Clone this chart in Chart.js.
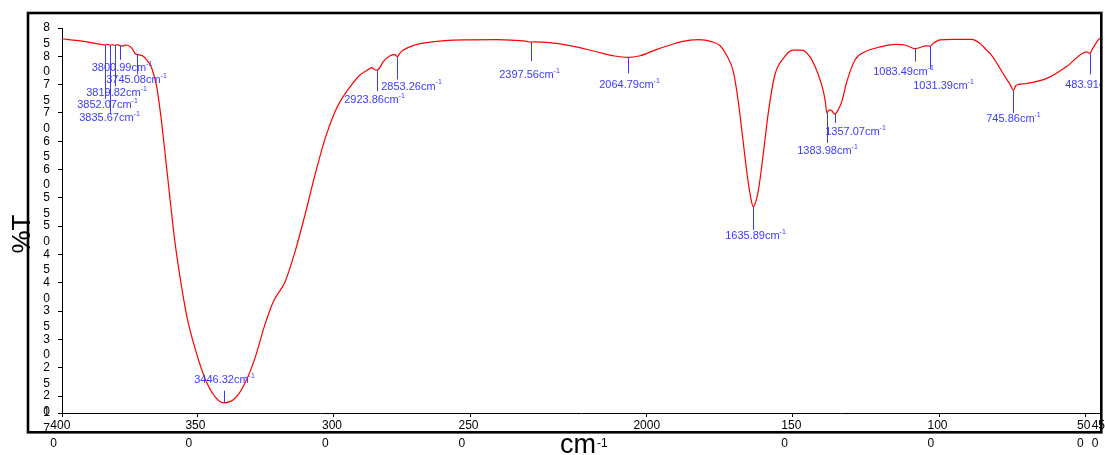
<!DOCTYPE html>
<html lang="en">
<head>
<meta charset="UTF-8">
<title>FTIR spectrum</title>
<script src="https://cdn.jsdelivr.net/npm/chart.js"></script>
<style>
    html, body { margin: 0; padding: 0; background: #fff; }
    #wrap { width: 1105px; height: 455px; }
</style>
</head>
<body>
<div id="wrap"><canvas id="spectrum" width="1105" height="455"></canvas></div>
<script>
    // spectrum: wavenumber (cm-1) and %T
    const wavenumbers = [
        4000, 3950, 3910, 3870, 3852, 3844, 3836, 3828, 3820, 3810, 3801, 3790, 3779, 3762, 3750, 3745,
        3735, 3725, 3710, 3693, 3676, 3661, 3648, 3631, 3614, 3596, 3574, 3545, 3511, 3477, 3446, 3408,
        3374, 3340, 3306, 3277, 3237, 3203, 3169, 3135, 3100, 3069, 3049, 3015, 2981, 2958, 2941, 2932,
        2924, 2916, 2901, 2878, 2862, 2853, 2845, 2833, 2799, 2741, 2628, 2513, 2445, 2410, 2398, 2385,
        2342, 2263, 2171, 2110, 2065, 2023, 1972, 1926, 1881, 1824, 1778, 1750, 1727, 1704, 1687, 1673,
        1658, 1644, 1636, 1628, 1619, 1602, 1584, 1562, 1533, 1499, 1470, 1442, 1413, 1396, 1389, 1384,
        1377, 1370, 1357, 1345, 1333, 1316, 1288, 1254, 1197, 1151, 1117, 1098, 1083, 1066, 1045, 1031,
        1020, 997, 952, 889, 861, 838, 826, 803, 775, 757, 746, 738, 730, 701, 632, 564,
        495, 489, 484, 478, 470, 456, 450
    ];
    const transmittance = [
        83.1, 82.8, 82.5, 82.15, 82.0, 82.1, 81.95, 82.05, 81.95, 82.05, 81.85, 81.85, 82.0, 81.5, 80.5, 80.35,
        80.25, 80.1, 79.35, 77.9, 74.6, 69.05, 63.1, 55.0, 47.3, 40.9, 34.3, 28.4, 23.1, 19.9, 18.8, 19.6,
        22.3, 26.7, 32.6, 36.7, 40.2, 45.5, 52.0, 59.0, 65.5, 69.9, 72.0, 74.6, 76.7, 77.5, 78.0, 77.7,
        77.55, 77.8, 79.05, 80.1, 80.3, 79.95, 80.5, 81.1, 81.9, 82.5, 82.9, 82.95, 82.8, 82.65, 82.5, 82.55,
        82.45, 81.9, 80.8, 80.05, 79.8, 80.1, 81.1, 81.9, 82.6, 82.95, 82.6, 81.9, 80.2, 77.3, 72.0, 66.1,
        59.6, 54.9, 53.4, 54.2, 56.1, 62.6, 70.2, 76.7, 79.65, 81.1, 81.1, 79.9, 76.7, 73.8, 71.8, 70.0,
        70.5, 70.5, 69.8, 70.6, 72.0, 75.5, 79.35, 80.8, 81.7, 82.1, 82.0, 81.6, 81.35, 81.55, 81.85, 81.8,
        82.3, 82.9, 83.0, 83.0, 82.3, 81.1, 80.5, 78.8, 76.4, 75.0, 74.0, 74.8, 75.0, 75.2, 76.1, 78.2,
        80.8, 80.6, 80.5, 81.1, 81.8, 82.9, 83.2
    ];

    // labelled peaks (cm-1)
    const peakWn = [3852.07, 3835.67, 3819.82, 3800.99, 3745.08, 3446.32, 2923.86, 2853.26, 2397.56,
        2064.79, 1635.89, 1383.98, 1357.07, 1083.49, 1031.39, 745.86, 483.91];

    // axis ticks
    const yTicks = [17, 20, 25, 30, 35, 40, 45, 50, 55, 60, 65, 70, 75, 80, 85];
    const xTicks = [4000, 3538, 3071, 2604, 2000, 1500, 1000, 500, 450];
    const xTickLabels = ['4000', '3500', '3000', '2500', '2000', '1500', '1000', '500', '450'];

    // marker line drop, label dx, label dy (px) for each peak label
    const peakLayout = [
        [54, 2, 6], [69, -1, 4], [41, 1, 7], [14, 1.5, 8], [20, -1, 6], [-12, 0, -11],
        [21, -3, 9], [23, 14, 7], [19, -2, 14], [16, 1, 12], [23, 2, 6], [30, 0, 8],
        [9, 20, 9], [13, -12, 10], [23, 13, 17], [23, 0, 6], [21, 2, 11]
    ];

    const FONT = '"Liberation Sans", Arial, sans-serif';
    const BLUE = '#3a3aff';

    function curveAt(wn) {
        for (let i = 0; i < wavenumbers.length - 1; i++) {
            const a = wavenumbers[i], b = wavenumbers[i + 1];
            if (wn <= a && wn >= b) {
                const t = (a - wn) / (a - b);
                return transmittance[i] + t * (transmittance[i + 1] - transmittance[i]);
            }
        }
        return transmittance[transmittance.length - 1];
    }

    // the original wraps the last digit onto a second, left-aligned line
    function wrapTick(s) {
        if (s === '2000') return s;
        const head = s.slice(0, -1);
        return [head + ' ', s.slice(-1) + ' '.repeat(2 * (head.length - 1) + 1)];
    }

    function supText(ctx, main, sup, cx, cy, size, supSize, raise) {
        ctx.font = size + 'px ' + FONT;
        const w1 = ctx.measureText(main).width;
        ctx.font = supSize + 'px ' + FONT;
        const w2 = ctx.measureText(sup).width;
        const left = cx - (w1 + w2) / 2;
        ctx.textAlign = 'left';
        ctx.textBaseline = 'middle';
        ctx.font = size + 'px ' + FONT;
        ctx.fillText(main, left, cy);
        ctx.font = supSize + 'px ' + FONT;
        ctx.fillText(sup, left + w1, cy - raise);
    }

    const decor = {
        id: 'decor',
        afterDatasetsDraw(chart) {
            const { ctx, chartArea: a, scales: { x, y } } = chart;
            ctx.save();
            ctx.beginPath();
            ctx.rect(a.left, a.top, a.right - a.left, a.bottom - a.top);
            ctx.clip();
            peakWn.forEach((wn, i) => {
                const [drop, dx, dy] = peakLayout[i];
                const px = Math.round(x.getPixelForValue(wn)) + 0.5;
                const py = y.getPixelForValue(curveAt(wn));
                ctx.strokeStyle = BLUE;
                ctx.fillStyle = BLUE;
                ctx.lineWidth = 1;
                ctx.beginPath();
                ctx.moveTo(px, py);
                ctx.lineTo(px, py + drop);
                ctx.stroke();
                supText(ctx, wn.toFixed(2) + 'cm', '-1', px + dx, py + drop + dy, 11, 7, 4);
            });
            ctx.restore();
        },
        afterDraw(chart) {
            const ctx = chart.ctx;
            ctx.save();
            // outer frame
            ctx.strokeStyle = '#000';
            ctx.lineWidth = 2.6;
            ctx.strokeRect(28, 13, 1073.3, 419.3);
            // axis titles
            ctx.fillStyle = '#000';
            ctx.font = '27px ' + FONT;
            ctx.textAlign = 'left';
            ctx.textBaseline = 'alphabetic';
            const w = ctx.measureText('cm').width;
            ctx.fillText('cm', 560, 453);
            ctx.font = '12px ' + FONT;
            ctx.fillText('-1', 560 + w + 1, 447);
            ctx.translate(29.5, 234);
            ctx.rotate(-Math.PI / 2);
            ctx.font = '26px ' + FONT;
            ctx.textAlign = 'center';
            ctx.fillText('%T', 0, 0);
            ctx.restore();
        }
    };

    new Chart(document.getElementById('spectrum'), {
        type: 'line',
        data: {
            datasets: [{
                data: wavenumbers.map((w, i) => ({ x: w, y: transmittance[i] })),
                borderColor: '#ff0000',
                borderWidth: 1.2,
                pointRadius: 0,
                fill: false,
                cubicInterpolationMode: 'monotone'
            }]
        },
        options: {
            responsive: false,
            animation: false,
            layout: { padding: { top: 28, right: 5, bottom: 0, left: 0 } },
            plugins: { legend: { display: false }, tooltip: { enabled: false } },
            scales: {
                x: {
                    type: 'linear',
                    reverse: true,
                    min: 450,
                    max: 4000,
                    afterBuildTicks: s => { s.ticks = xTicks.map(v => ({ value: v })); },
                    afterFit: s => { s.height = 42; s.paddingLeft = 0; s.paddingRight = 0; },
                    ticks: {
                        autoSkip: false,
                        maxRotation: 0,
                        padding: 0,
                        color: '#000',
                        font: { family: FONT, size: 12, lineHeight: 1.5 },
                        callback: (v, i) => wrapTick(xTickLabels[i])
                    },
                    grid: { drawOnChartArea: false, drawTicks: true, tickLength: 4, color: '#000' },
                    border: { display: true, color: '#000', width: 1 }
                },
                y: {
                    min: 17,
                    max: 85,
                    afterBuildTicks: s => { s.ticks = yTicks.map(v => ({ value: v })); },
                    afterFit: s => { s.width = 62; s.paddingTop = 0; s.paddingBottom = 0; },
                    ticks: {
                        autoSkip: false,
                        padding: 8,
                        color: '#000',
                        font: { family: FONT, size: 12, lineHeight: 1.3 },
                        callback: v => ['', ...String(v)]
                    },
                    grid: { drawOnChartArea: false, drawTicks: true, tickLength: 4, color: '#000' },
                    border: { display: true, color: '#000', width: 1 }
                }
            }
        },
        plugins: [decor]
    });
</script>
</body>
</html>
